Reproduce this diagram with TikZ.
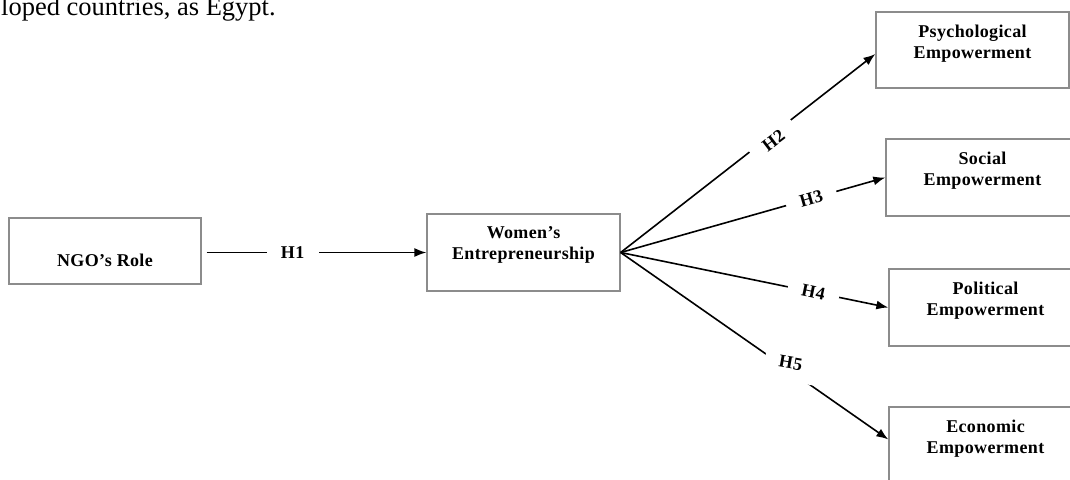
\documentclass[tikz,border=0pt]{standalone}
\usepackage{fontspec}
\setmainfont{Liberation Serif}
\newfontfamily\boxfont[LetterSpace=2]{Liberation Serif}
\usetikzlibrary{arrows.meta}

\tikzset{
  box/.style={draw=black!45, line width=1.3pt, minimum width=193pt, minimum height=77pt, inner sep=0pt},
  boxtext/.style={font=\boxfont\bfseries\fontsize{18}{21}\selectfont, align=center, inner sep=0pt},
  hyp/.style={fill=white, font=\boxfont\bfseries\fontsize{18}{20}\selectfont, minimum width=52pt, minimum height=30pt, inner sep=0pt},
  link/.style={line width=1.6pt, -{Latex[length=12pt,width=9pt]}}
}

\begin{document}
\begin{tikzpicture}[x=1pt,y=-1pt]
			\clip (0,0) rectangle (1070,479);
			% cut-off line of the page text
			\node[anchor=base west, inner sep=0pt, font=\fontsize{26.5}{30}\selectfont] (intro) at (1,16) {loped countries, as Egypt.};

			% boxes
			\node[box, minimum width=192pt, minimum height=66pt] (ngo) at (105,251) {};
			\node[box] (we) at (523.5,252.5) {};
			\node[box, minimum height=76pt] (psy) at (972.5,50) {};
			\node[box] (soc) at (982.5,177.5) {};
			\node[box] (pol) at (985.5,307.5) {};
			\node[box] (eco) at (985.5,445.5) {};

			\node[boxtext] (ngotxt) at ([yshift=-9pt]ngo.center) {NGO’s Role};
			\node[boxtext, anchor=north] (wetxt) at ([yshift=-13pt]we.north) {Women’s\\Entrepreneurship};
			\node[boxtext, anchor=north] (psytxt) at ([yshift=-13pt]psy.north) {Psychological\\Empowerment};
			\node[boxtext, anchor=north] (soctxt) at ([yshift=-13pt]soc.north) {Social\\Empowerment};
			\node[boxtext, anchor=north] (poltxt) at ([yshift=-13pt]pol.north) {Political\\Empowerment};
			\node[boxtext, anchor=north] (ecotxt) at ([yshift=-13pt]eco.north) {Economic\\Empowerment};

			% hypotheses
			\draw[link, shorten <=5pt] (ngo.east |- we.west) -- node[hyp, pos=0.405] (h1) {H1} (we.west);
			\draw[link] (we.east) -- node[hyp, pos=0.6, yshift=-7pt, rotate=37.5] (h2) {H2} ([yshift=-4pt]psy.west);
			\draw[link] (we.east) -- node[hyp, pos=0.72, rotate=16] (h3) {H3} (soc.west);
			\draw[link] (we.east) -- node[hyp, pos=0.72, rotate=-12] (h4) {H4} (pol.west);
			\draw[link] (we.east) -- node[hyp, pos=0.635, yshift=8pt, rotate=-10, minimum height=36pt] (h5) {H5} ([yshift=6pt]eco.west);
\end{tikzpicture}
\end{document}
